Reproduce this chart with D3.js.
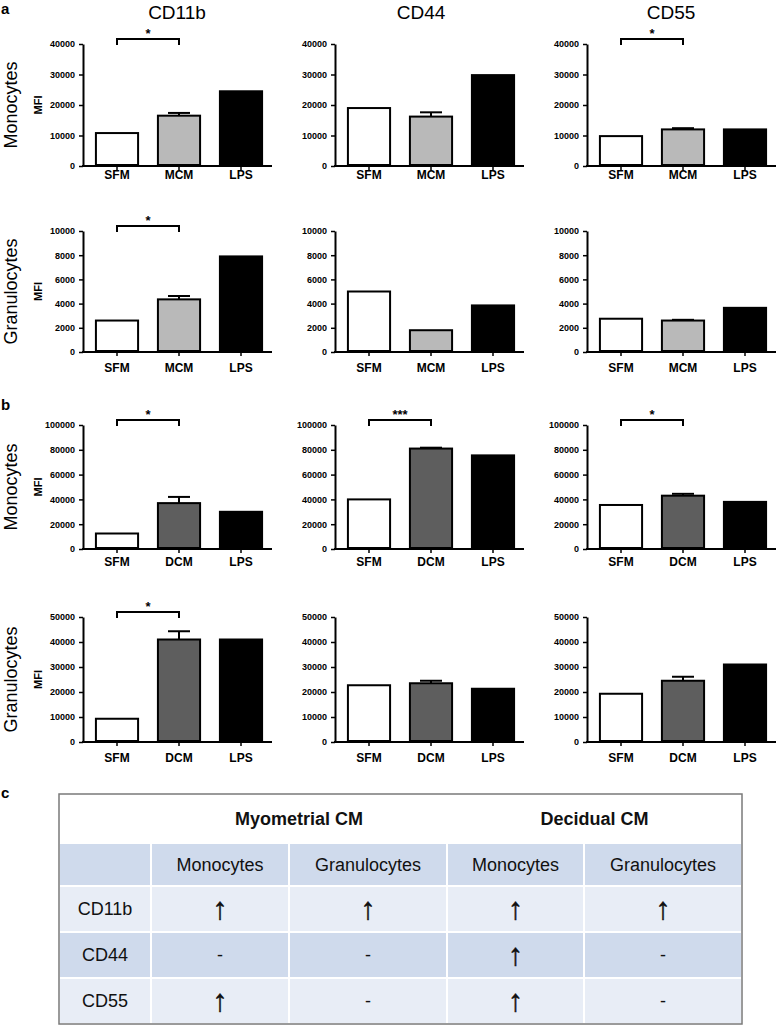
<!DOCTYPE html>
<html><head><meta charset="utf-8">
<script src="https://cdn.jsdelivr.net/npm/d3@7"></script>
<style>body{margin:0;background:#fff}svg{display:block}text{font-family:"Liberation Sans",Arial,sans-serif}</style>
</head><body>
<script>
// ---------- data ----------
const markers = ["CD11b", "CD44", "CD55"];
const catsA = ["SFM", "MCM", "LPS"];
const catsB = ["SFM", "DCM", "LPS"];
const rowNames = ["Monocytes", "Granulocytes", "Monocytes", "Granulocytes"];

// means per marker (CD11b, CD44, CD55), each [SFM, CM, LPS]
const aMonoMeans = [[10800, 16500, 24500], [19000, 16200, 29800], [9800, 12000, 12000]];
const aMonoErr   = [[0, 900, 0], [0, 1400, 0], [0, 400, 0]];
const aGranMeans = [[2600, 4350, 7900], [5000, 1800, 3850], [2750, 2600, 3650]];
const aGranErr   = [[0, 280, 0], [0, 0, 0], [0, 60, 0]];
const bMonoMeans = [[12500, 37000, 30000], [40000, 81000, 75500], [35500, 43000, 38000]];
const bMonoErr   = [[0, 5000, 0], [0, 700, 0], [0, 1500, 0]];
const bGranMeans = [[9300, 41000, 41000], [22700, 23500, 21300], [19300, 24500, 31000]];
const bGranErr   = [[0, 3300, 0], [0, 1000, 0], [0, 1600, 0]];

const aMonoSig = ["*", "", "*"];
const aGranSig = ["*", "", ""];
const bMonoSig = ["*", "***", "*"];
const bGranSig = ["*", "", ""];

const yMaxes = [40000, 10000, 100000, 50000];
const yTickSteps = [10000, 2000, 20000, 10000];

const tableGroups = ["Myometrial CM", "Decidual CM"];
const tableCols = ["Monocytes", "Granulocytes", "Monocytes", "Granulocytes"];
const tableRows = ["CD11b", "CD44", "CD55"];
const tableVals = [["↑", "↑", "↑", "↑"], ["-", "-", "↑", "-"], ["↑", "-", "↑", "-"]];

// ---------- layout ----------
const W = 778, H = 1025;
const rowTop = [44, 231, 425, 617];
const rowBottom = [166, 352, 549, 742];
const labelGap = [13, 20, 17, 20];
const colAxisX = [83, 335, 587];
const titleX = [177, 421, 671];
const barColors = {SFM: "#ffffff", MCM: "#b9b9b9", DCM: "#5e5e5e", LPS: "#000000"};

const rowsCfg = [
  {cats: catsA, means: aMonoMeans, errs: aMonoErr, sig: aMonoSig},
  {cats: catsA, means: aGranMeans, errs: aGranErr, sig: aGranSig},
  {cats: catsB, means: bMonoMeans, errs: bMonoErr, sig: bMonoSig},
  {cats: catsB, means: bGranMeans, errs: bGranErr, sig: bGranSig}
];

const svg = d3.select("body").append("svg").attr("width", W).attr("height", H);
svg.append("rect").attr("width", W).attr("height", H).attr("fill", "#fff");

// panel letters
[["a", 14], ["b", 410], ["c", 798]].forEach(([t, y]) =>
  svg.append("text").attr("x", 1).attr("y", y).attr("font-size", 15).attr("font-weight", "bold").text(t));

// column titles
markers.forEach((m, i) =>
  svg.append("text").attr("x", titleX[i]).attr("y", 19).attr("text-anchor", "middle")
    .attr("font-size", 19).text(m));

rowsCfg.forEach((cfg, r) => {
  const top = rowTop[r], bottom = rowBottom[r];
  // row label
  const mid = (top + bottom) / 2;
  svg.append("text").attr("transform", `translate(17,${mid}) rotate(-90)`)
    .attr("text-anchor", "middle").attr("font-size", 18).text(rowNames[r]);
  svg.append("text").attr("transform", `translate(42,${mid}) rotate(-90)`)
    .attr("text-anchor", "middle").attr("font-size", 11).attr("font-weight", "bold").text("MFI");

  markers.forEach((m, c) => {
    const ax = colAxisX[c];
    const g = svg.append("g");
    const x = d3.scaleBand().domain(cfg.cats).range([ax + 3, ax + 189]).paddingInner(0.32).paddingOuter(0.16);
    const y = d3.scaleLinear().domain([0, yMaxes[r]]).range([bottom, top]);

    // y axis
    const yAxis = d3.axisLeft(y).tickValues(d3.range(0, yMaxes[r] + 1, yTickSteps[r]))
      .tickSize(4).tickSizeOuter(0).tickFormat(d3.format("d"));
    const ya = g.append("g").attr("transform", `translate(${ax},0)`).call(yAxis);
    ya.select(".domain").attr("stroke-width", 2);
    ya.selectAll(".tick line").attr("stroke-width", 1.5);
    ya.selectAll(".tick text").attr("font-size", 9).attr("font-weight", "bold")
      .attr("font-family", "Liberation Sans, Arial, sans-serif").attr("dx", -1);

    // x axis
    const xAxis = d3.axisBottom(x).tickSize(4).tickSizeOuter(0);
    const xa = g.append("g").attr("transform", `translate(0,${bottom})`).call(xAxis);
    xa.select(".domain").remove();
    xa.selectAll(".tick line").attr("stroke-width", 1.5);
    xa.selectAll(".tick text").attr("font-size", 12).attr("font-weight", "bold")
      .attr("font-family", "Liberation Sans, Arial, sans-serif")
      .attr("y", labelGap[r]).attr("dy", 0);
    g.append("line").attr("x1", ax - 1).attr("x2", ax + 189).attr("y1", bottom).attr("y2", bottom)
      .attr("stroke", "#000").attr("stroke-width", 2);

    // bars
    const vals = cfg.means[c], errs = cfg.errs[c];
    cfg.cats.forEach((cat, k) => {
      const v = vals[k];
      g.append("rect").attr("x", x(cat)).attr("width", x.bandwidth())
        .attr("y", y(v)).attr("height", y(0) - y(v) - 1)
        .attr("fill", barColors[cat]).attr("stroke", "#000").attr("stroke-width", 2);
      if (errs[k] > 0) {
        const cx = x(cat) + x.bandwidth() / 2;
        g.append("line").attr("x1", cx).attr("x2", cx).attr("y1", y(v)).attr("y2", y(v + errs[k]))
          .attr("stroke", "#000").attr("stroke-width", 2);
        g.append("line").attr("x1", cx - 11).attr("x2", cx + 11).attr("y1", y(v + errs[k])).attr("y2", y(v + errs[k]))
          .attr("stroke", "#000").attr("stroke-width", 2);
      }
    });

    // significance
    if (cfg.sig[c]) {
      const x1 = x(cfg.cats[0]) + x.bandwidth() / 2, x2 = x(cfg.cats[1]) + x.bandwidth() / 2;
      const yb = y(yMaxes[r]) - 5;
      g.append("path").attr("d", `M${x1},${yb + 6}V${yb}H${x2}V${yb + 6}`)
        .attr("fill", "none").attr("stroke", "#000").attr("stroke-width", 2);
      g.append("text").attr("x", (x1 + x2) / 2).attr("y", yb - 1).attr("text-anchor", "middle")
        .attr("font-size", 13).attr("font-weight", "bold").text(cfg.sig[c]);
    }
  });
});

// ---------- table ----------
const colEdges = [59, 151, 289, 447, 584, 742];
const rowEdges = [794, 843, 886, 932, 978, 1024];
const rowFills = ["#ffffff", "#cfdaec", "#e8edf6", "#cfdaec", "#e8edf6"];
const tg = svg.append("g");
for (let ri = 1; ri < 5; ri++) {
  for (let ci = 0; ci < 5; ci++) {
    tg.append("rect").attr("x", colEdges[ci] + 1).attr("y", rowEdges[ri] + 1)
      .attr("width", colEdges[ci + 1] - colEdges[ci] - 2).attr("height", rowEdges[ri + 1] - rowEdges[ri] - 2)
      .attr("fill", rowFills[ri]);
  }
}
tg.append("rect").attr("x", colEdges[0]).attr("y", rowEdges[0])
  .attr("width", colEdges[5] - colEdges[0]).attr("height", rowEdges[5] - rowEdges[0])
  .attr("fill", "none").attr("stroke", "#7a7a7a").attr("stroke-width", 1.5);

const cellText = (t, ci0, ci1, ri, bold) => {
  const isArrow = t === "↑";
  const el = tg.append("text").attr("x", (colEdges[ci0] + colEdges[ci1]) / 2)
    .attr("y", (rowEdges[ri] + rowEdges[ri + 1]) / 2).attr("dy", isArrow ? "0.33em" : "0.35em")
    .attr("text-anchor", "middle").attr("font-size", isArrow ? 31 : 18)
    .attr("font-family", isArrow ? "DejaVu Sans, sans-serif" : "Liberation Sans, Arial, sans-serif")
    .attr("font-weight", bold ? "bold" : "normal").attr("fill", "#111").text(t);
  if (isArrow) el.attr("stroke", "#111").attr("stroke-width", 0.4);
  return el;
};

tableGroups.forEach((t, i) => cellText(t, 1 + 2 * i, 3 + 2 * i, 0, true));
tableCols.forEach((t, i) => cellText(t, i + 1, i + 2, 1, false));
tableRows.forEach((t, i) => {
  cellText(t, 0, 1, i + 2, false);
  tableVals[i].forEach((v, j) => cellText(v, j + 1, j + 2, i + 2, false));
});
</script>
</body></html>
